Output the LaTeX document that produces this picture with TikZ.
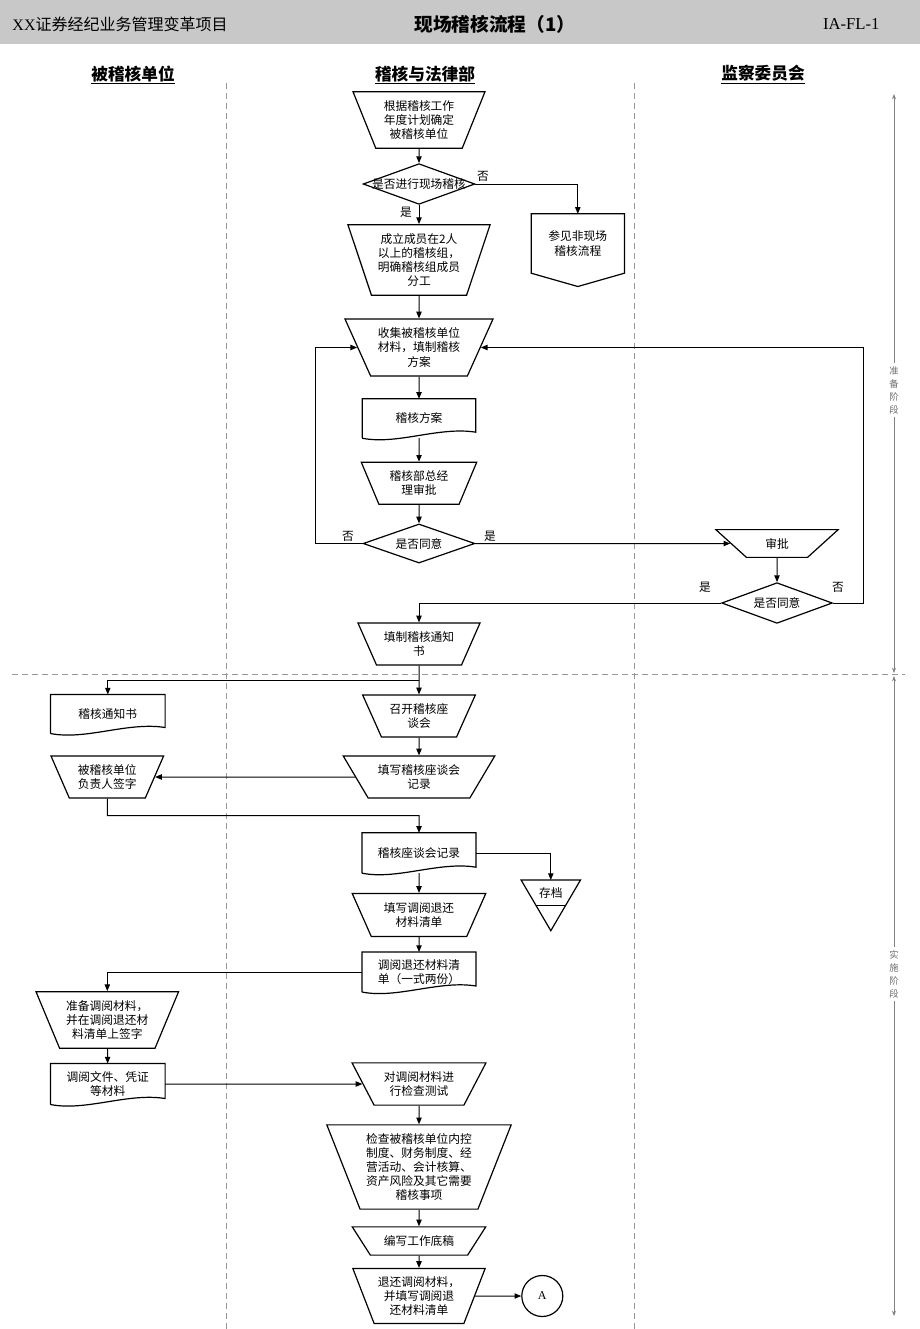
\documentclass[tikz,border=0pt]{standalone}
\usepackage{fontspec}
\setmainfont{Noto Sans CJK SC}
\newfontfamily\latinfont{Liberation Serif}
\usetikzlibrary{shapes.geometric,arrows.meta,calc}

\newcommand{\boxfont}{\fontsize{8.8}{10.6}\selectfont}

\tikzset{every picture/.style={line width=0.75pt}}
\tikzset{
  manual/.style={trapezium, shape border rotate=180, trapezium stretches=true,
    trapezium left angle=#1, trapezium right angle=#1, draw, line width=0.9pt,
    align=center, inner xsep=0pt, inner ysep=1pt, font=\boxfont},
  manual/.default=65,
  decision/.style={diamond, aspect=2.8, draw, line width=0.9pt, inner sep=0pt, font=\boxfont},
  docbox/.style={rectangle, align=center, inner sep=1pt, font=\boxfont},
  shapeline/.style={line width=0.9pt},
  flow/.style={-{Triangle[length=5pt,width=4pt]}, line width=0.75pt},
  yesno/.style={inner sep=1pt, font=\boxfont},
  lanehead/.style={inner sep=1pt, font=\fontsize{12.5}{14}\selectfont\bfseries},
  lanedash/.style={color={rgb, 255:red, 150; green, 150; blue, 150}, dash pattern={on 4.5pt off 3pt}, line width=0.75pt},
  phasetext/.style={align=center, inner sep=2pt, text={rgb, 255:red, 110; green, 110; blue, 110}, font=\fontsize{7}{9.75}\selectfont},
  phase/.style={-{Stealth[length=4pt,width=3pt]}, color={rgb, 255:red, 130; green, 130; blue, 130}, line width=0.5pt}
}

\begin{document}
\begin{tikzpicture}[x=0.75pt,y=0.75pt,yscale=-1,xscale=1]
\useasboundingbox (0,0) rectangle (920,1329);

%Shape: Header band
\fill [color={rgb, 255:red, 200; green, 200; blue, 200}] (0,0) rectangle (920,44);
% Text Node
\node [anchor=west, inner sep=0pt, font=\fontsize{12}{14}\selectfont] (project) at (12,24) {{\latinfont XX}证券经纪业务管理变革项目};
% Text Node
\node [inner sep=0pt, font=\fontsize{14}{16}\selectfont\bfseries] (title) at (495,24) {现场稽核流程（1）};
% Text Node
\node [anchor=east, inner sep=0pt, font=\latinfont\fontsize{12.5}{14}\selectfont] (code) at (880,24) {IA-FL-1};

% Lane headers
\node [lanehead] (lane-unit) at (133,75) {\underline{被稽核单位}};
\node [lanehead] (lane-legal) at (425,75) {\underline{稽核与法律部}};
\node [lanehead] (lane-board) at (763,75) {\underline{监察委员会}};

%Straight Lines: lane and phase dividers
\draw [lanedash] (226,83) -- (226,1329);
\draw [lanedash] (634,83) -- (634,1329);
\draw [lanedash] (12,674) -- (905,674);

% Phase markers
\node [phasetext] (prep) at (894,390) {准\\备\\阶\\段};
\node [phasetext] (exec) at (894,974) {实\\施\\阶\\段};
\coordinate (prep-top) at (894,94);
\coordinate (prep-bot) at (894,673);
\coordinate (exec-top) at (894,676);
\coordinate (exec-bot) at (894,1316);
\draw [phase] (prep.north) -- (prep-top);
\draw [phase] (prep.south) -- (prep-bot);
\draw [phase] (exec.north) -- (exec-top);
\draw [phase] (exec.south) -- (exec-bot);

%Shape: preparation stage
\node [manual=66, minimum width=99.75pt, minimum height=42.5pt] (choose) at (419,120) {根据稽核工作\\年度计划确定\\被稽核单位};
\node [decision, minimum width=83.8pt, minimum height=30.5pt] (q1) at (419,184) {\makebox[0pt]{是否进行现场稽核}};
\node [manual=70, minimum width=107.25pt, minimum height=53pt] (team) at (419,260) {成立成员在2人\\以上的稽核组，\\明确稽核组成员\\分工};
\node [docbox, minimum width=69.2pt, minimum height=43.8pt] (offpage) at (577.8,243.5) {参见非现场\\稽核流程};
\node [manual=62.5, minimum width=111.2pt, minimum height=42.75pt] (collect) at (419,347.5) {收集被稽核单位\\材料，填制稽核\\方案};
\node [docbox, minimum width=84.5pt, minimum height=28.8pt] (plan) at (419,418.5) {稽核方案};
\node [manual=65, minimum width=87pt, minimum height=31.5pt] (review) at (419,483.3) {稽核部总经\\理审批};
\node [decision, minimum width=83.8pt, minimum height=29.3pt] (q2) at (419,543.5) {是否同意};
\node [manual=49, minimum width=92pt, minimum height=20.8pt] (approve) at (777,543.5) {审批};
\node [decision, minimum width=83pt, minimum height=30.5pt] (q3) at (777,603) {是否同意};
\node [manual=61, minimum width=92.25pt, minimum height=31.5pt] (notice) at (419,644) {填制稽核通知\\书};

%Shape: implementation stage
\node [docbox, minimum width=85.2pt, minimum height=28.5pt] (noticedoc) at (107.8,714) {稽核通知书};
\node [manual=62, minimum width=84.75pt, minimum height=31.5pt] (meeting) at (419,716) {召开稽核座\\谈会};
\node [manual=54, minimum width=114.75pt, minimum height=31.5pt] (record) at (419,777) {填写稽核座谈会\\记录};
\node [manual=63, minimum width=84.75pt, minimum height=31.5pt] (sign) at (107.3,777) {被稽核单位\\负责人签字};
\node [docbox, minimum width=84.75pt, minimum height=29.5pt] (minutes) at (419,853) {稽核座谈会记录};
\node [inner sep=1pt, font=\boxfont] (arch) at (550.8,893) {存档};
\node [manual=63, minimum width=100.5pt, minimum height=32.25pt] (listfill) at (419,915) {填写调阅退还\\材料清单};
\node [docbox, minimum width=84.75pt, minimum height=29.25pt] (listdoc) at (419,972) {调阅退还材料清\\单（一式两份）};
\node [manual=64, minimum width=107.6pt, minimum height=42.5pt] (prepare) at (107.3,1020) {准备调阅材料，\\并在调阅退还材\\料清单上签字};
\node [docbox, minimum width=85.2pt, minimum height=30pt] (files) at (107.8,1084) {调阅文件、凭证\\等材料};
\node [manual=58, minimum width=100.5pt, minimum height=31.7pt] (test) at (419,1084) {对调阅材料进\\行检查测试};
\node [manual=67, minimum width=138.3pt, minimum height=63.2pt] (check) at (419,1167) {检查被稽核单位内控\\制度、财务制度、经\\营活动、会计核算、\\资产风险及其它需要\\稽核事项};
\node [manual=46, minimum width=100.8pt, minimum height=21.2pt] (draft) at (419,1241) {编写工作底稿};
\node [manual=65, minimum width=99.3pt, minimum height=41.25pt] (return) at (419,1296) {退还调阅材料，\\并填写调阅退\\还材料清单};
\node [circle, draw, line width=0.9pt, minimum size=30.75pt, inner sep=0pt, font=\latinfont\fontsize{9}{10}\selectfont] (conn-a) at (542.3,1296) {A};

%Shape: document, off-page and archive outlines
\foreach \d in {plan,noticedoc,minutes,listdoc,files}
  \draw [shapeline] (\d.south west) -- (\d.north west) -- (\d.north east) -- ($(\d.south east)+(0,-6)$) .. controls ($(\d.south)+(20,-12)$) and ($(\d.south)+(-22,7)$) .. (\d.south west);
\draw [shapeline] (offpage.north west) -- (offpage.north east) -- (offpage.south east) -- ($(offpage.south)+(0,13.3)$) -- (offpage.south west) -- cycle;
\coordinate (arch-top) at (550.8,880);
\draw [shapeline] ($(arch)+(-29.7,-13)$) -- ($(arch)+(29.7,-13)$) -- ($(arch)+(0,37.7)$) -- cycle;
\draw [shapeline] ($(arch)+(-14.8,12.3)$) -- ($(arch)+(14.8,12.3)$);

%Straight Lines: connectors
\coordinate (loop-left) at (315,543.5);
\coordinate (loop-right) at (863,603);
\coordinate (split) at (419,680);
\coordinate (sign-out) at (107.3,815.7);
\draw [flow] (choose) -- (q1);
\draw [flow] (q1.east) -| (offpage.north);
\draw [flow] (q1) -- (team);
\draw [flow] (team) -- (collect);
\draw [flow] (collect) -- (plan);
\draw [flow] (plan) -- (review);
\draw [flow] (review) -- (q2);
\draw [flow] (q2.west) -- (loop-left) |- (collect.west);
\draw [flow] (q2.east) -- (approve.west);
\draw [flow] (approve) -- (q3);
\draw [flow] (q3.east) -- (loop-right) |- (collect.east);
\draw [flow] (q3.west) -| (notice.north);
\draw [flow] (notice) -- (meeting);
\draw [flow] (split) -| (noticedoc.north);
\draw [flow] (meeting) -- (record);
\draw [flow] (record.west) -- (sign.east);
\draw [flow] (sign.south) -- (sign-out) -| (minutes.north);
\draw [flow] (minutes.east) -| (arch-top);
\draw [flow] (minutes) -- (listfill);
\draw [flow] (listfill) -- (listdoc);
\draw [flow] (listdoc.west) -| (prepare.north);
\draw [flow] (prepare) -- (files);
\draw [flow] (files.east) -- (test.west);
\draw [flow] (test) -- (check);
\draw [flow] (check) -- (draft);
\draw [flow] (draft) -- (return);
\draw [flow] (return.east) -- (conn-a.west);

% Text Node: branch labels
\node [yesno] (q1-no) at (483,176) {否};
\node [yesno] (q1-yes) at (406,212) {是};
\node [yesno] (q2-no) at (348,536) {否};
\node [yesno] (q2-yes) at (490,536) {是};
\node [yesno] (q3-yes) at (705,587) {是};
\node [yesno] (q3-no) at (838,587) {否};

\end{tikzpicture}
\end{document}
